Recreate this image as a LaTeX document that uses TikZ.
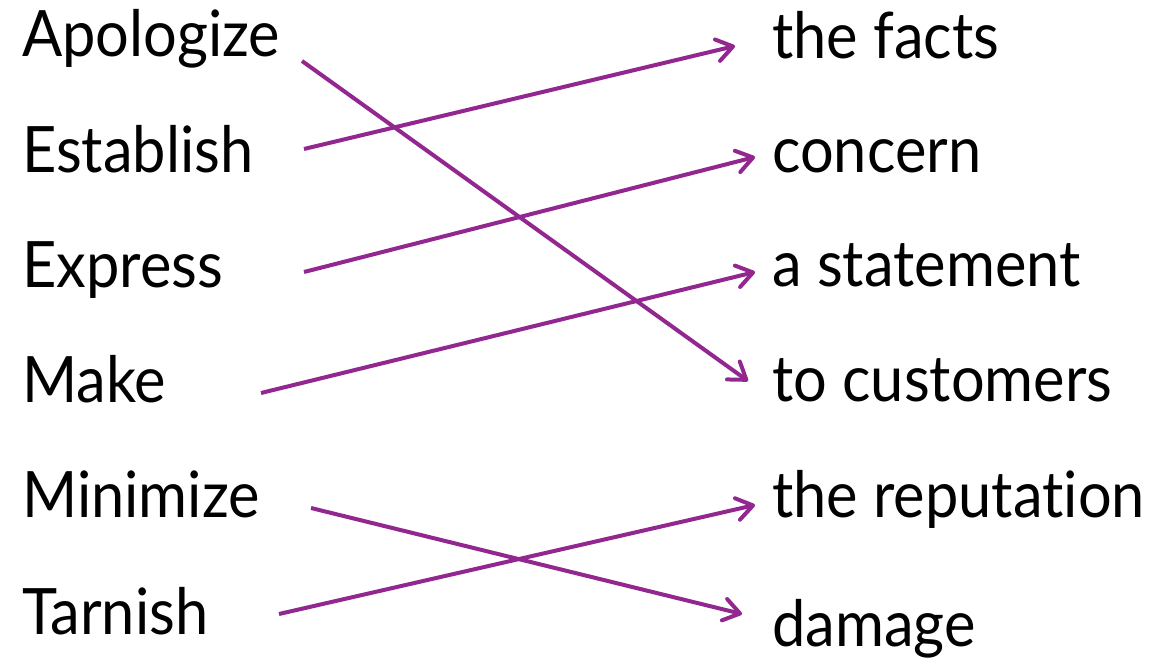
\documentclass[tikz,border=0pt]{standalone}
\usepackage{fontspec}
\setmainfont{Lato}[FakeStretch=0.93,Ligatures=NoCommon]
\usetikzlibrary{arrows.meta}
\definecolor{linkpurple}{RGB}{146,39,143}
\tikzset{
  word/.style={anchor=base west, inner sep=0pt, font=\fontsize{64}{70}\selectfont, text=black},
  link/.style={draw=linkpurple, line width=4pt, -{Straight Barb[length=16pt,width=22pt,line cap=round,line join=round]}}
}
\begin{document}
\begin{tikzpicture}[x=1pt,y=1pt]
\useasboundingbox (0,0) rectangle (1154,659);
% left column
\node[word] (L1) at (22,602) {Apologize};
\node[word] (L2) at (22,486) {Establish};
\node[word] (L3) at (22,371) {Express};
\node[word] (L4) at (22,256) {Make};
\node[word] (L5) at (22,141) {Minimize};
\node[word] (L6) at (22,25) {Tarnish};
% right column
\node[word] (R1) at (772,600) {the facts};
\node[word] (R2) at (772,486) {concern};
\node[word] (R3) at (772,372) {a statement};
\node[word] (R4) at (772,257) {to customers};
\node[word] (R5) at (772,141) {the reputation};
\node[word] (R6) at (772,13) {damage};
% connectors
\draw[link] ([shift={(280,-4)}]L1.base west) -- ([shift={(-24,21)}]R4.base west);
\draw[link] ([shift={(282,24)}]L2.base west) -- ([shift={(-37,13)}]R1.base west);
\draw[link] ([shift={(282,16)}]L3.base west) -- ([shift={(-17,16)}]R2.base west);
\draw[link] ([shift={(239,10)}]L4.base west) -- ([shift={(-17,15)}]R3.base west);
\draw[link] ([shift={(289,10)}]L5.base west) -- ([shift={(-30,32)}]R6.base west);
\draw[link] ([shift={(257,20)}]L6.base west) -- ([shift={(-17,13)}]R5.base west);
\end{tikzpicture}
\end{document}
